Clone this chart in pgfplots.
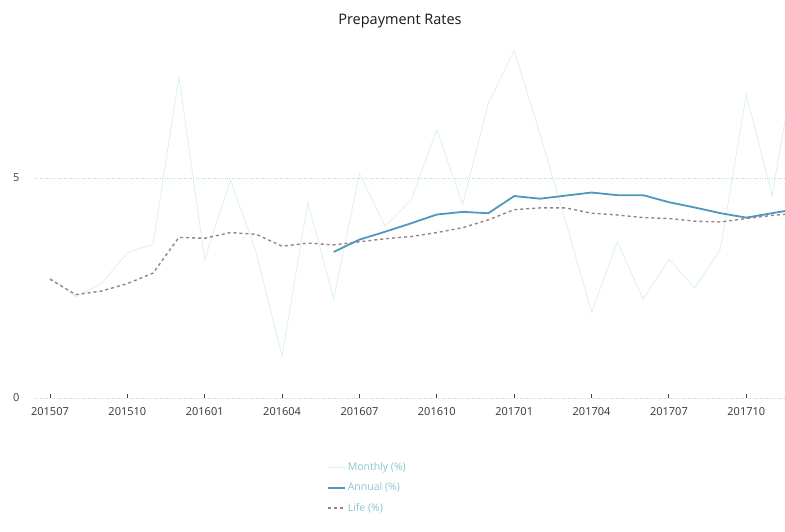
\documentclass[border=0pt]{standalone}
\usepackage{fontspec}
\setmainfont{Open Sans}
\usepackage{pgfplots}
\usepackage{pgfplotstable}
\pgfplotsset{compat=1.18}
\definecolor{monthly}{RGB}{220,240,242}
\definecolor{annual}{RGB}{78,152,190}
\definecolor{life}{RGB}{155,128,138}
\definecolor{gridc}{RGB}{178,218,225}
\definecolor{legtext}{RGB}{140,195,212}
\pgfplotstableread{
i m
0 2.75
1 2.30
2 2.60
3 3.30
4 3.50
5 7.30
6 3.15
7 4.95
8 3.30
9 0.95
10 4.45
11 2.25
12 5.10
13 3.90
14 4.50
15 6.10
16 4.40
17 6.70
18 7.90
19 6.00
20 4.00
21 1.95
22 3.55
23 2.25
24 3.15
25 2.50
26 3.40
27 6.90
28 4.60
29 8.00
}\monthlydata
\pgfplotstableread{
i a
11 3.32
12 3.60
13 3.78
14 3.97
15 4.17
16 4.23
17 4.20
18 4.59
19 4.53
20 4.60
21 4.67
22 4.61
23 4.61
24 4.45
25 4.33
26 4.20
27 4.10
28 4.20
29 4.30
}\annualdata
\pgfplotstableread{
i l
0 2.70
1 2.35
2 2.43
3 2.60
4 2.84
5 3.65
6 3.63
7 3.76
8 3.72
9 3.45
10 3.52
11 3.48
12 3.55
13 3.62
14 3.67
15 3.76
16 3.87
17 4.05
18 4.28
19 4.32
20 4.32
21 4.20
22 4.16
23 4.10
24 4.08
25 4.02
26 4.00
27 4.08
28 4.15
29 4.20
}\lifedata
\begin{document}
\begin{tikzpicture}[x=1pt,y=1pt]
\useasboundingbox (0,0) rectangle (785,531);
\node[font=\fontsize{14.5}{16}\selectfont, text=black!90] at (400,510) {Prepayment Rates};
\begin{axis}[
  at={(35pt,133pt)}, anchor=south west,
  scale only axis, width=750pt, height=369.6pt,
  xmin=-0.58, xmax=28.5, ymin=0, ymax=8.4,
  axis line style={draw=none},
  ytick={0,5},
  ymajorgrids,
  grid style={gridc, dotted, line width=0.9pt},
  ytick style={draw=none},
  yticklabel style={font=\fontsize{11}{13}\selectfont, text=black!75, anchor=east, xshift=-12pt},
  xtick={0,3,...,27},
  xticklabels={201507,201510,201601,201604,201607,201610,201701,201704,201707,201710},
  xtick pos=bottom, tick align=inside, major tick length=4pt,
  xtick style={black!75, line width=0.9pt},
  xticklabel style={font=\fontsize{11}{13}\selectfont, text=black!80, yshift=-6pt},
  /pgf/number format/assume math mode=true,
  legend style={at={(0.385,-0.163)}, anchor=north west, draw=none, fill=none,
    font=\fontsize{10.5}{12}\selectfont, text=legtext, row sep=7pt},
  legend cell align=left,
]
\addplot[monthly, line width=0.8pt] table[x=i,y=m] {\monthlydata};
\addlegendentry{Monthly (\%)}
\addplot[annual, line width=1.8pt] table[x=i,y=a] {\annualdata};
\addlegendentry{Annual (\%)}
\addplot[life, line width=1.4pt, dash pattern=on 3pt off 3pt] table[x=i,y=l] {\lifedata};
\addlegendentry{Life (\%)}
\end{axis}
\end{tikzpicture}
\end{document}
